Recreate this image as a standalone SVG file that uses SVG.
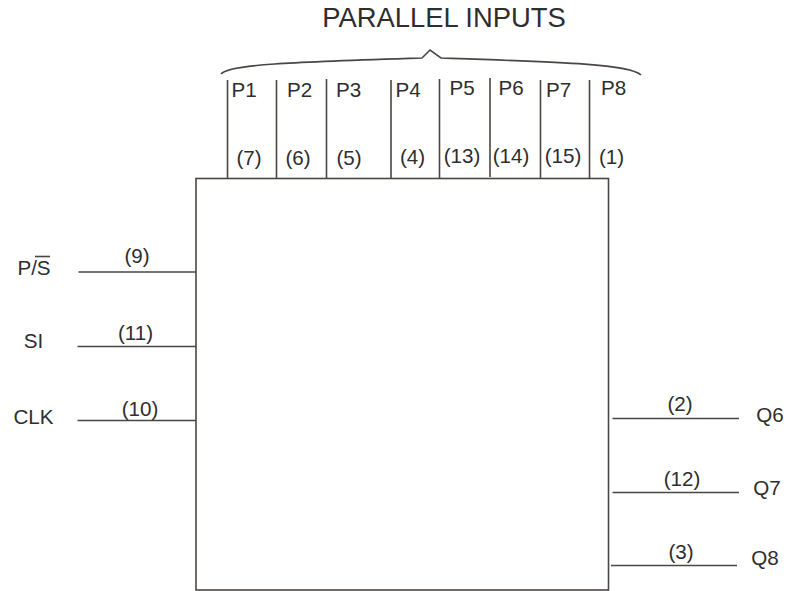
<svg xmlns="http://www.w3.org/2000/svg" width="786" height="591" viewBox="0 0 786 591">
<style>
.t{font-family:"Liberation Sans",Arial,sans-serif;font-size:20.600px;fill:#2e2e2e;text-anchor:middle}
.l{stroke:#4a4644;stroke-width:1.6;fill:none}
</style>
<rect width="786" height="591" fill="#fff"/>
<g id="connectors">
<path class="l" d="M227.500 80V178M276.500 80V178M326.500 79V178M391 80V178M439.500 79V178M490 78V177M540.500 80V178M589.500 80V178"/>
<path class="l" d="M78.500 272H196M77.500 346.500H196M77.500 420.500H196"/>
<path class="l" d="M612.500 418.500H739M612.500 492.500H739M611 565.500H737"/>
<path class="l" d="M221 74C228 64 300 62 422 58L430 50L441 58C560 62 630 64 641 75" stroke-width="1.400"/>
</g>
<g id="block"><rect class="l" x="196" y="178.500" width="412.500" height="411.500"/></g>
<g id="title"><text class="t" x="444" y="27" style="font-size:27.400px">PARALLEL INPUTS</text></g>
<g id="P1"><text class="t" x="244" y="97">P1</text><text class="t" x="249" y="165">(7)</text></g>
<g id="P2"><text class="t" x="299.500" y="97">P2</text><text class="t" x="298" y="165">(6)</text></g>
<g id="P3"><text class="t" x="348.500" y="97">P3</text><text class="t" x="349" y="165">(5)</text></g>
<g id="P4"><text class="t" x="408" y="97">P4</text><text class="t" x="412.500" y="164">(4)</text></g>
<g id="P5"><text class="t" x="462" y="95">P5</text><text class="t" x="462" y="163">(13)</text></g>
<g id="P6"><text class="t" x="511" y="95">P6</text><text class="t" x="511" y="163">(14)</text></g>
<g id="P7"><text class="t" x="558.500" y="97">P7</text><text class="t" x="563" y="163">(15)</text></g>
<g id="P8"><text class="t" x="613.500" y="95">P8</text><text class="t" x="611.500" y="164">(1)</text></g>
<g id="PS"><text class="t" x="34" y="275">P/S</text><path class="l" d="M35 256.500H50" stroke-width="1.200"/><text class="t" x="137" y="263">(9)</text></g>
<g id="SI"><text class="t" x="33.500" y="348">SI</text><text class="t" x="135.500" y="340">(11)</text></g>
<g id="CLK"><text class="t" x="33.500" y="424">CLK</text><text class="t" x="140" y="416">(10)</text></g>
<g id="Q6"><text class="t" x="770" y="422">Q6</text><text class="t" x="680" y="411">(2)</text></g>
<g id="Q7"><text class="t" x="767" y="495">Q7</text><text class="t" x="682" y="486">(12)</text></g>
<g id="Q8"><text class="t" x="765" y="565">Q8</text><text class="t" x="681" y="559">(3)</text></g>
</svg>
